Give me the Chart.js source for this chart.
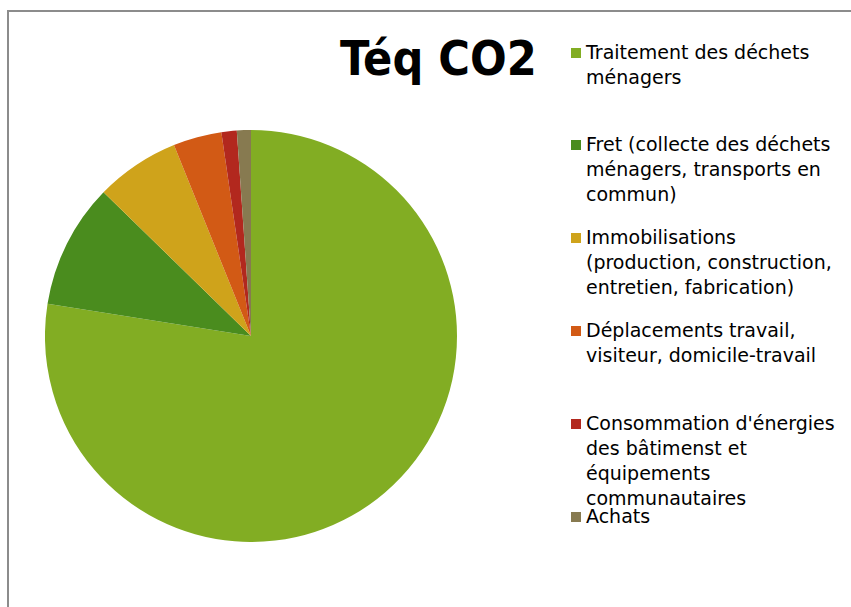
<!DOCTYPE html>
<html>
<head>
<meta charset="utf-8">
<script src="https://cdn.jsdelivr.net/npm/chart.js@4"></script>
<style>
  html, body { margin: 0; padding: 0; background: #fff; }
  body { width: 851px; height: 607px; position: relative; overflow: hidden;
         font-family: "DejaVu Sans Condensed", "DejaVu Sans", sans-serif; }
  #cadre { position: absolute; left: 7px; top: 10px; width: 900px; height: 700px;
           border-left: 2px solid #8c8c8c; border-top: 2px solid #8c8c8c; }
  #zone_pie { position: absolute; left: 45px; top: 130px; width: 412px; height: 412px; }
  #titre { position: absolute; left: 340px; top: 30px; font-size: 48px; font-weight: bold;
           color: #000; white-space: nowrap; }
  .item { position: absolute; left: 570px; width: 280px; }
  .item .carre { position: absolute; left: 1px; top: 8px; width: 10px; height: 10px; }
  .item .texte { position: absolute; left: 16px; top: 0; font-size: 19px; line-height: 25px;
                 font-family: "DejaVu Sans", sans-serif; color: #000; white-space: nowrap; }
</style>
</head>
<body>
<div id="cadre"></div>
<div id="titre">Téq CO2</div>
<div id="zone_pie"><canvas id="g_pie" width="412" height="412"></canvas></div>
<div id="legende"></div>
<script>
const categories = [
  ["Traitement des déchets", "ménagers"],
  ["Fret (collecte des déchets", "ménagers, transports en", "commun)"],
  ["Immobilisations", "(production, construction,", "entretien, fabrication)"],
  ["Déplacements travail,", "visiteur, domicile-travail"],
  ["Consommation d'énergies", "des bâtimenst et", "équipements", "communautaires"],
  ["Achats"]
]
const valeurs = [77.5, 9.8, 6.6, 3.8, 1.2, 1.1]
const couleurs = ["#82ad23", "#4a8c1e", "#cfa31b", "#d25a15", "#b2281e", "#877a50"]

const legende = document.getElementById("legende")

const grafico_pie = () => {
  const chart = new Chart(document.getElementById("g_pie"), {
    type: 'pie',
    data: {
      labels: categories.map(c => c.join(" ")),
      datasets: [{
        data: valeurs,
        backgroundColor: couleurs,
        borderWidth: 0
      }]
    },
    options: {
      responsive: false,
      animation: false,
      layout: { padding: 0 },
      plugins: {
        legend: { display: false },
        tooltip: { enabled: false }
      }
    }
  })

  const items = chart.options.plugins.legend.labels.generateLabels(chart)
  items.forEach((item, i) => {
    const centre = 52 + i * 92.8
    legende.insertAdjacentHTML('beforeend', `
      <div class="item" style="top:${centre - 12.5}px">
        <div class="carre" style="background:${item.fillStyle}"></div>
        <div class="texte">${categories[i].join("<br>")}</div>
      </div>`)
  })
}

grafico_pie()
</script>
</body>
</html>
